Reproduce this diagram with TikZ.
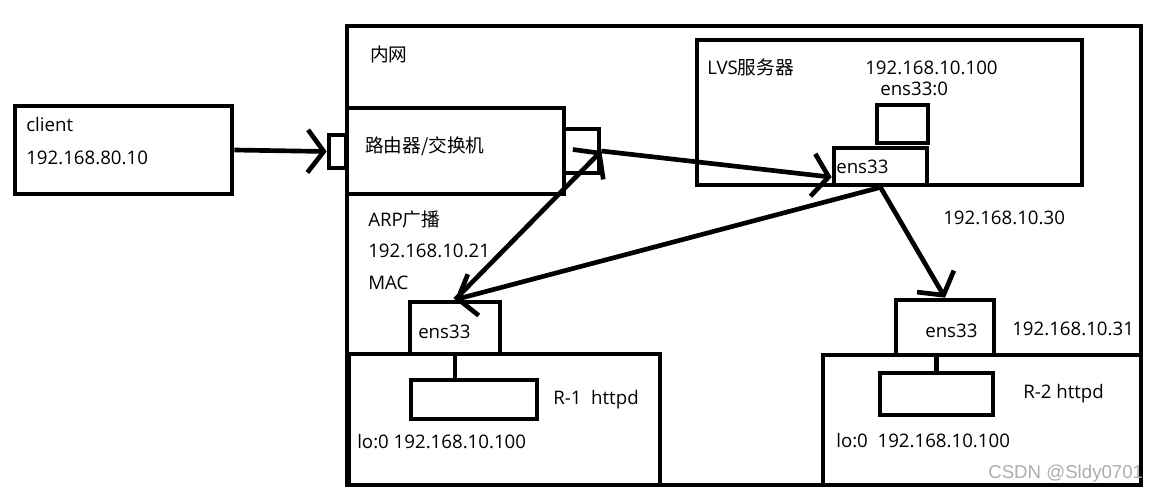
\documentclass[tikz,border=0pt]{standalone}
\usepackage{fontspec}
\setmainfont{Open Sans}
\newfontfamily\cjk{Noto Sans CJK SC}
\newfontfamily\wmfont{Liberation Sans}
\usetikzlibrary{arrows.meta,fit}
\begin{document}
\begin{tikzpicture}[x=0.75pt,y=-0.75pt,
  box/.style={draw, line width=3.5pt, inner sep=0pt},
  lbl/.style={anchor=base west, inner sep=0pt, font=\fontsize{14pt}{17pt}\selectfont},
  arr/.style={line width=3.5pt, -{Straight Barb[length=12pt,width=32pt]}},
  link/.style={line width=3.5pt}]
\useasboundingbox (0,0) rectangle (1159,493);
% boxes
\node[box, fit={(347,26)(1141,485)}] (lan) {};
\node[box, fit={(15,106)(232,194)}] (client) {};
\node[box, fit={(329,135)(346,168)}] (lport) {};
\node[box, fit={(347,108)(564,194)}] (router) {};
\node[box, fit={(564,129)(599,173)}] (rport) {};
\node[box, fit={(697,40)(1082,185)}] (lvs) {};
\node[box, fit={(877,105)(928,143)}] (vip) {};
\node[box, fit={(834,148)(927,185)}] (lens) {};
\node[box, fit={(410,302)(500,354)}] (r1ens) {};
\node[box, fit={(349,354)(660,485)}] (r1) {};
\node[box, fit={(411,380)(537,419)}] (r1in) {};
\node[box, fit={(896,300)(994,355)}] (r2ens) {};
\node[box, fit={(823,355)(1141,485)}] (r2) {};
\node[box, fit={(880,373)(993,415)}] (r2in) {};
% labels
\node[lbl] (tclient) at (26,131) {client};
\node[lbl] (tcip) at (26,164) {192.168.80.10};
\node[lbl] (tlan) at (370,61) {\cjk 内网};
\node[lbl] (trouter) at (365,152) {\cjk 路由器/交换机};
\node[lbl] (tlvs) at (707,74) {LVS{\cjk 服务器}};
\node[lbl] (tvip) at (865,74) {192.168.10.100};
\node[lbl] (tvipif) at (880,95) {ens33:0};
\node[lbl] (tlens) at (836,173) {ens33};
\node[lbl] (tarp) at (368,226) {ARP{\cjk 广播}};
\node[lbl] (tarpip) at (368,257) {192.168.10.21};
\node[lbl] (tmac) at (368,289) {MAC};
\node[lbl] (tr1ens) at (418,338) {ens33};
\node[lbl] (tr1) at (553,404) {R-1\ \ httpd};
\node[lbl] (tr1lo) at (357,448) {lo:0 192.168.10.100};
\node[lbl] (tdip) at (943,224) {192.168.10.30};
\node[lbl] (tr2ens) at (925,337) {ens33};
\node[lbl] (tr2ip) at (1012,335) {192.168.10.31};
\node[lbl] (tr2) at (1023,398) {R-2 httpd};
\node[lbl] (tr2lo) at (836,447) {lo:0\ \ 192.168.10.100};
\node[anchor=base west, inner sep=0pt, text=black!32, font=\wmfont\fontsize{14pt}{16pt}\selectfont] (wm) at (988,478) {CSDN @Sldy0701};
% connectors
\draw[arr] (client.east) -- (lport.west);
\draw[arr] (rport.east) -- ([yshift=-8pt]lens.west);
\draw[arr] (lens.south) -- (r1ens.north);
\draw[arr] (r1ens.north) -- (rport.east);
\draw[arr] (lens.south) -- (r2ens.north);
\draw[link] (r1ens.south) -- (r1ens.south |- r1in.north);
\draw[link] (r2in.north) -- (r2in.north |- r2ens.south);
\end{tikzpicture}
\end{document}
